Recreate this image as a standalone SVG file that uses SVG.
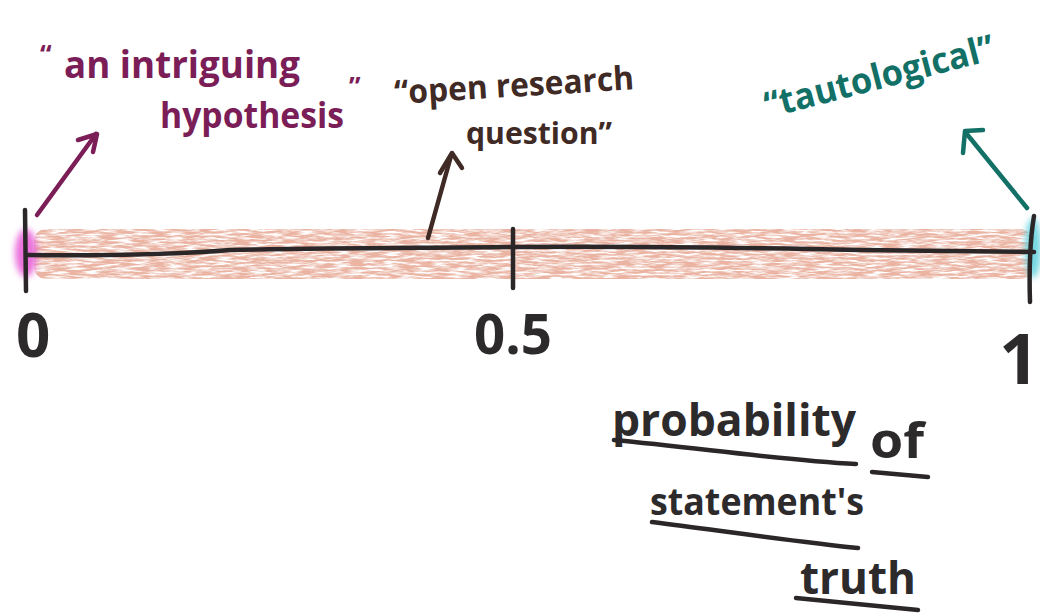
<svg xmlns="http://www.w3.org/2000/svg" width="1040" height="616" viewBox="0 0 1040 616">
<style>
.hand{font-family:"Open Sans","Liberation Sans",sans-serif;font-weight:700}
.ink{stroke:#2b2628;stroke-width:4.5;fill:none;stroke-linecap:round;stroke-linejoin:round}
.purple{fill:#7b1d57}
.brown{fill:#3f2a25}
.teal{fill:#127066}
.black{fill:#2d2a2c}
</style>
<defs>
<filter id="crayon" x="-2%" y="-20%" width="104%" height="140%">
<feTurbulence type="fractalNoise" baseFrequency="0.06 0.5" numOctaves="3" seed="7" result="n"/>
<feColorMatrix in="n" type="matrix" values="0 0 0 0 0.82  0 0 0 0 0.45  0 0 0 0 0.36  3.2 0 0 0 -0.95" result="c"/>
<feComposite in="c" in2="SourceGraphic" operator="in"/>
</filter>
<filter id="soft" x="-50%" y="-50%" width="200%" height="200%">
<feGaussianBlur stdDeviation="3"/>
</filter>
</defs>
<rect width="1040" height="616" fill="#ffffff"/>

<g id="band">
<rect x="34" y="229" width="998" height="50" rx="12" fill="#000" filter="url(#crayon)"/>
<ellipse cx="26" cy="253" rx="11" ry="24" fill="#e862d8" opacity="0.9" filter="url(#soft)"/>
<ellipse cx="1033" cy="248" rx="8" ry="30" fill="#5ccfdc" opacity="0.85" filter="url(#soft)"/>
</g>

<g id="axis">
<path class="ink" d="M28 255 C120 256 180 254 230 250 C330 248 420 248 513 247 C650 246 760 248 860 250 C940 251 990 252 1034 252"/>
<path class="ink" d="M25 210 L26 291"/>
<path class="ink" d="M513 229 L513 288"/>
<path class="ink" d="M1034 216 C1030 240 1029 270 1030 302"/>
</g>

<g id="ticks-labels" class="hand black">
<text x="16" y="357" font-size="60">0</text>
<text x="474" y="354" font-size="55" textLength="78" lengthAdjust="spacingAndGlyphs">0.5</text>
<text x="999" y="384" font-size="70">1</text>
</g>

<g id="connectors" fill="none" stroke-width="4.5" stroke-linecap="round" stroke-linejoin="round">
<path d="M37 215 L96 134" stroke="#7b1d57"/>
<path d="M78 140 L97 134 L93 152" stroke="#7b1d57"/>
<path d="M428 238 L451 156" stroke="#3f2a25"/>
<path d="M440 173 L452 153 L462 168" stroke="#3f2a25"/>
<path d="M1027 208 L966 133" stroke="#127066"/>
<path d="M963 153 L965 131 L983 130" stroke="#127066"/>
</g>

<g id="label-hypothesis" class="hand purple">
<text x="40" y="64" font-size="26">“</text>
<text x="64" y="78" font-size="37" textLength="236" lengthAdjust="spacingAndGlyphs">an intriguing</text>
<text x="160" y="128" font-size="35" textLength="184" lengthAdjust="spacingAndGlyphs">hypothesis</text>
<text x="349" y="96" font-size="26">”</text>
</g>

<g id="label-open" class="hand brown">
<text x="395" y="104" font-size="33" textLength="240" lengthAdjust="spacingAndGlyphs" transform="rotate(-3.5 395 104)">“open research</text>
<text x="466" y="144" font-size="31" textLength="146" lengthAdjust="spacingAndGlyphs">question”</text>
</g>

<g id="label-tautological" class="hand teal">
<text x="768" y="118" font-size="36" textLength="236" lengthAdjust="spacingAndGlyphs" transform="rotate(-14.5 768 118)">“tautological”</text>
</g>

<g id="label-axis" class="hand black">
<text x="612" y="436" font-size="45" textLength="244" lengthAdjust="spacingAndGlyphs">probability</text>
<text x="870" y="458" font-size="48" textLength="54" lengthAdjust="spacingAndGlyphs">of</text>
<text x="650" y="515" font-size="37" textLength="214" lengthAdjust="spacingAndGlyphs">statement's</text>
<text x="800" y="594" font-size="45" textLength="116" lengthAdjust="spacingAndGlyphs">truth</text>
<path class="ink" d="M614 440 C700 448 780 460 856 464"/>
<path class="ink" d="M872 472 L928 477"/>
<path class="ink" d="M652 522 C730 532 800 542 858 548"/>
<path class="ink" d="M796 598 C840 602 880 606 918 610"/>
</g>
</svg>
